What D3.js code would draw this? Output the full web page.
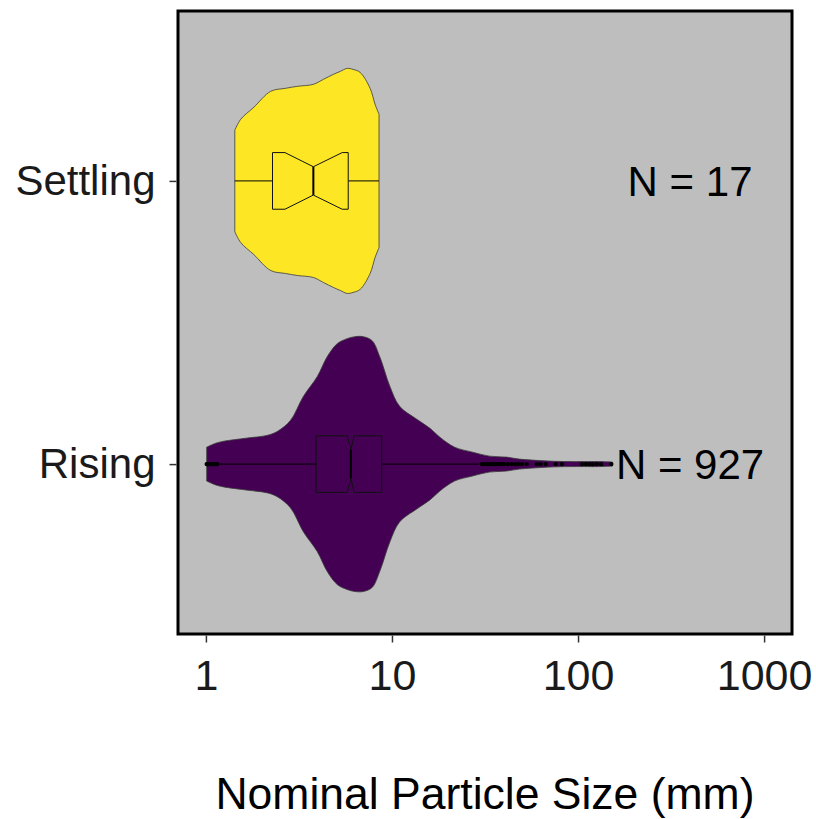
<!DOCTYPE html>
<html>
<head>
<meta charset="utf-8">
<script src="https://cdn.jsdelivr.net/npm/d3@7"></script>
<style>
  body { margin: 0; background: #ffffff; }
  text { font-family: "Liberation Sans", Arial, sans-serif; }
</style>
</head>
<body>
<svg id="chart" width="816" height="819"></svg>
<script>
// Groups, colours and sample sizes
const categories = ["Settling", "Rising"];
const groupColors = ["#FDE725", "#440154"];
const sampleSizes = [17, 927];

// Axis ticks and limits (mm, log scale)
const xTicks = [1, 10, 100, 1000];
const xLimits = [1, 1000];
const nLabelPosition = 400;

// Kernel density profiles (size in mm, density)
const settlingSizes   = [1.43, 1.54, 1.81, 2.23, 2.68, 3.10, 3.78, 4.28, 4.84, 5.27, 5.74, 6.18, 6.74, 7.63, 8.11, 8.52];
const settlingDensity = [0.51, 0.62, 0.74, 0.90, 0.93, 0.95, 0.97, 1.02, 1.07, 1.10, 1.13, 1.12, 1.09, 0.93, 0.77, 0.67];

const risingSizes   = [1.01, 1.13, 1.25, 1.64, 2.15, 2.43, 2.85, 3.34, 3.97, 4.49, 5.08, 5.74, 6.33, 7.00, 7.82, 8.63, 9.75, 11.0, 13.6, 16.0, 18.1, 21.7, 27.1, 33.4, 41.2, 48.3, 56.8, 70.0, 89.5, 129.5, 153];
const risingDensity = [0.17, 0.21, 0.23, 0.26, 0.29, 0.33, 0.44, 0.68, 0.88, 1.08, 1.21, 1.26, 1.28, 1.28, 1.24, 1.07, 0.78, 0.58, 0.45, 0.36, 0.27, 0.17, 0.12, 0.08, 0.07, 0.05, 0.04, 0.03, 0.025, 0.025, 0.02];

// Box-plot statistics per group (mm)
const whiskerLow  = [1.43, 1.16];
const boxQ1       = [2.28, 3.91];
const notchLow    = [2.66, 5.76];
const boxMedian   = [3.78, 6.01];
const notchHigh   = [5.40, 6.27];
const boxQ3       = [5.82, 8.81];
const whiskerHigh = [8.52, 29.5];

// Outlying observations (mm)
const settlingOutliers = [];
const risingOutliers = [1.01, 1.02, 1.03, 1.04, 1.05, 1.06, 1.08, 1.10, 1.12, 1.14, 1.15,
  30.5, 31, 32, 33, 34, 35, 36, 37, 38, 39, 40, 42, 44, 46, 48, 50, 53,
  60, 63, 67, 76, 82, 105, 110, 115, 120, 126, 133, 151];

const profiles = [
  { sizes: settlingSizes, density: settlingDensity, outliers: settlingOutliers },
  { sizes: risingSizes, density: risingDensity, outliers: risingOutliers }
];

// Layout
const svg = d3.select("#chart");
const panel = { left: 178, top: 11, right: 792, bottom: 634 };
const fontFamily = "'Liberation Sans', Arial, sans-serif";

const logMin = Math.log10(xLimits[0]), logMax = Math.log10(xLimits[1]);
const pad = (logMax - logMin) * 0.05;
const x = d3.scaleLog()
  .domain([Math.pow(10, logMin - pad), Math.pow(10, logMax + pad)])
  .range([panel.left, panel.right]);

const y = d3.scalePoint()
  .domain(categories)
  .range([panel.top, panel.bottom])
  .padding(0.6);

const step = y.step();
const maxDensity = d3.max(risingDensity.concat(settlingDensity));
const width = d3.scaleLinear().domain([0, maxDensity]).range([0, step * 0.45]);
const boxHalf = step * 0.1;

// Panel background
svg.append("rect")
  .attr("x", panel.left).attr("y", panel.top)
  .attr("width", panel.right - panel.left)
  .attr("height", panel.bottom - panel.top)
  .attr("fill", "#BEBEBE");

const plot = svg.append("g");

categories.forEach((cat, i) => {
  const yc = y(cat);
  const prof = profiles[i];
  const pts = prof.sizes.map((s, k) => [s, prof.density[k]]);

  // Violin
  const area = d3.area()
    .x(d => x(d[0]))
    .y0(d => yc + width(d[1]))
    .y1(d => yc - width(d[1]))
    .curve(d3.curveCatmullRom.alpha(0.5));
  plot.append("path")
    .attr("d", area(pts))
    .attr("fill", groupColors[i])
    .attr("stroke", "#3a3a3a")
    .attr("stroke-width", 0.8);

  // Whiskers
  plot.append("line")
    .attr("x1", x(whiskerLow[i])).attr("x2", x(boxQ1[i]))
    .attr("y1", yc).attr("y2", yc)
    .attr("stroke", "#000").attr("stroke-width", 1);
  plot.append("line")
    .attr("x1", x(boxQ3[i])).attr("x2", x(whiskerHigh[i]))
    .attr("y1", yc).attr("y2", yc)
    .attr("stroke", "#000").attr("stroke-width", 1);

  // Notched box
  const top = yc - boxHalf, bot = yc + boxHalf;
  const nTop = yc - boxHalf * 0.5, nBot = yc + boxHalf * 0.5;
  const boxPts = [
    [x(boxQ1[i]), top], [x(notchLow[i]), top], [x(boxMedian[i]), nTop],
    [x(notchHigh[i]), top], [x(boxQ3[i]), top], [x(boxQ3[i]), bot],
    [x(notchHigh[i]), bot], [x(boxMedian[i]), nBot], [x(notchLow[i]), bot],
    [x(boxQ1[i]), bot]
  ];
  plot.append("path")
    .attr("d", d3.line()(boxPts) + "Z")
    .attr("fill", groupColors[i])
    .attr("stroke", "#111")
    .attr("stroke-width", 1);
  plot.append("line")
    .attr("x1", x(boxMedian[i])).attr("x2", x(boxMedian[i]))
    .attr("y1", nTop).attr("y2", nBot)
    .attr("stroke", "#000").attr("stroke-width", 2);

  // Outliers
  plot.selectAll(null)
    .data(prof.outliers)
    .enter().append("circle")
    .attr("cx", d => x(d))
    .attr("cy", yc)
    .attr("r", 2.2)
    .attr("fill", "#000");

  // Sample size label
  plot.append("text")
    .attr("x", x(nLabelPosition))
    .attr("y", yc)
    .attr("dy", "0.36em")
    .attr("text-anchor", "middle")
    .attr("font-size", 42)
    .attr("fill", "#000")
    .text("N = " + sampleSizes[i]);
});

// Panel border
svg.append("rect")
  .attr("x", panel.left).attr("y", panel.top)
  .attr("width", panel.right - panel.left)
  .attr("height", panel.bottom - panel.top)
  .attr("fill", "none")
  .attr("stroke", "#000")
  .attr("stroke-width", 3);

// X axis
const xAxis = svg.append("g")
  .attr("transform", `translate(0,${panel.bottom + 1.5})`)
  .call(d3.axisBottom(x).tickValues(xTicks).tickFormat(d3.format("d")).tickSize(7).tickPadding(17));
xAxis.select(".domain").remove();
xAxis.selectAll(".tick line").attr("stroke", "#333").attr("stroke-width", 1.5);
xAxis.selectAll(".tick text").attr("font-size", 43).attr("fill", "#1a1a1a")
  .style("font-family", fontFamily);

// Y axis
const yAxis = svg.append("g")
  .attr("transform", `translate(${panel.left - 1.5},0)`)
  .call(d3.axisLeft(y).tickSize(7).tickPadding(14));
yAxis.select(".domain").remove();
yAxis.selectAll(".tick line").attr("stroke", "#333").attr("stroke-width", 1.5);
yAxis.selectAll(".tick text").attr("font-size", 42).attr("fill", "#1a1a1a")
  .style("font-family", fontFamily);

// Axis title
svg.append("text")
  .attr("x", (panel.left + panel.right) / 2)
  .attr("y", 809)
  .attr("text-anchor", "middle")
  .attr("font-size", 44.5)
  .attr("fill", "#000")
  .text("Nominal Particle Size (mm)");
</script>
</body>
</html>
